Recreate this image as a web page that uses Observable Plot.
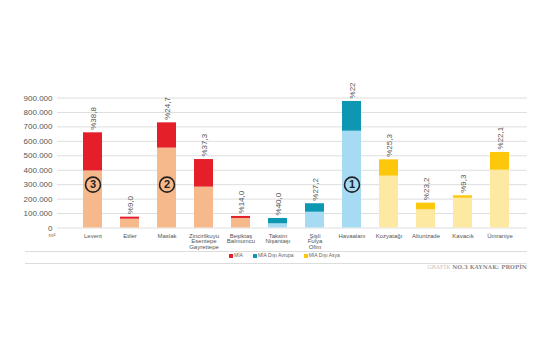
<!DOCTYPE html>
<html><head><meta charset="utf-8">
<script src="https://cdn.jsdelivr.net/npm/d3@7"></script>
<script src="https://cdn.jsdelivr.net/npm/@observablehq/plot@0.6"></script>
<style>
body{margin:0;background:#fff;font-family:"Liberation Sans",Arial,sans-serif;}
#wrap{position:relative;width:555px;height:355px;overflow:hidden;background:#fff;}
#chart{position:absolute;left:0;top:82px;}
.hr{position:absolute;left:25px;width:502px;height:1px;background:#dcdcdc;}
#legend{position:absolute;top:253px;left:229px;display:flex;align-items:center;font-size:5px;line-height:5px;color:#666;white-space:nowrap;}
#legend .sw{display:inline-block;width:4px;height:4px;margin-right:1px;}
#legend .it{display:flex;align-items:center;margin-right:10px;}
#footer{position:absolute;top:264px;right:28px;font-size:5.5px;line-height:6px;white-space:nowrap;font-family:"DejaVu Serif",serif;letter-spacing:0.1px;}
</style>
</head><body>
<div id="wrap">
  <div id="chart"></div>
  <div class="hr" style="top:251px"></div>
  <div id="legend"></div>
  <div class="hr" style="top:263px"></div>
  <div id="footer"><span style="color:#c4c4c4">GRAFİK </span><span style="color:#8a8a8a;font-weight:bold">NO.3 KAYNAK: PROPİN</span></div>
</div>
<script>
const categories = ["Levent","Etiler","Maslak","Zincirlikuyu\nEsentepe\nGayrettepe","Beşiktaş\nBalmumcu","Taksim\nNişantaşı","Şişli\nFulya\nOfim","Havaalanı","Kozyatağı","Altunizade","Kavacık","Ümraniye"];
const regions = ["MİA","MİA","MİA","MİA","MİA","MİA Dışı Avrupa","MİA Dışı Avrupa","MİA Dışı Avrupa","MİA Dışı Asya","MİA Dışı Asya","MİA Dışı Asya","MİA Dışı Asya"];
const baseValues = [395000, 61000, 553000, 283000, 66000, 29000, 109000, 670000, 359000, 126000, 206000, 400000];
const topValues = [264000, 14000, 175000, 191000, 14000, 37000, 59000, 206000, 113000, 46000, 17000, 123000];
const percentLabels = ["%38,8","%9,0","%24,7","%37,3","%14,0","%40,0","%27,2","%22,2","%25,3","%23,2","%9,3","%22,1"];
const rankCategories = ["Levent","Maslak","Havaalanı"];
const rankLabels = ["3","2","1"];
const rankLevel = 300000;
const yTicks = [0,100000,200000,300000,400000,500000,600000,700000,800000,900000];
const legendNames = ["MİA","MİA Dışı Avrupa","MİA Dışı Asya"];
const lightColors = ["#f6b98b","#a7dbf3","#fde9a2"];
const darkColors = ["#e41f2a","#0e97b2","#fdc80c"];

const rows = [];
categories.forEach((c,i)=>{
  rows.push({cat:c, key: regions[i]+"|base", value: baseValues[i]});
  rows.push({cat:c, key: regions[i]+"|top", value: topValues[i]});
});
const colorDomain = [], colorRange = [];
legendNames.forEach((n,i)=>{colorDomain.push(n+"|base", n+"|top"); colorRange.push(lightColors[i], darkColors[i]);});
const totals = categories.map((c,i)=>({cat:c, total: baseValues[i]+topValues[i], label: percentLabels[i]}));
const ranks = rankCategories.map((c,i)=>({cat:c, v: rankLevel, label: rankLabels[i]}));
const fmt = d => d3.format(",")(d).replace(/,/g,".");

const chart = Plot.plot({
  width: 555,
  height: 171,
  marginTop: 15.5,
  marginBottom: 25.5,
  marginLeft: 57,
  marginRight: 28,
  style: {overflow: "hidden", background: "transparent", fontFamily: "Liberation Sans, Arial, sans-serif"},
  x: {domain: categories, range: [78.2, 513.8], paddingInner: 0.482, paddingOuter: 0, axis: null},
  y: {domain: [0, 900000], axis: null},
  color: {type: "ordinal", domain: colorDomain, range: colorRange},
  marks: [
    Plot.ruleY(yTicks, {stroke: "#dedede", strokeWidth: 1}),
    Plot.barY(rows, {x: "cat", y: "value", fill: "key"}),
    Plot.text(totals, {x: "cat", y: "total", text: "label", rotate: -90, textAnchor: "start", dy: -3, fontSize: 8, fill: "#555"}),
    Plot.dot(ranks, {x: "cat", y: "v", r: 7.5, stroke: "#222", strokeWidth: 1.6, fill: "none"}),
    Plot.text(ranks, {x: "cat", y: "v", text: "label", fontSize: 11, fontWeight: "bold", fill: "#222"}),
    Plot.text(yTicks, {y: d => d, text: fmt, frameAnchor: "left", textAnchor: "end", dx: -5, fontSize: 8, fill: "#555"}),
    Plot.text(["m²"], {frameAnchor: "bottom-left", textAnchor: "end", dx: -2, dy: 9, fontSize: 6, fill: "#666"}),
    Plot.text(categories, {x: d => d, text: d => d, frameAnchor: "bottom", lineAnchor: "top", dy: 5.5, fontSize: 6, lineHeight: 0.95, fill: "#555"})
  ]
});
document.getElementById("chart").appendChild(chart);

const lg = document.getElementById("legend");
legendNames.forEach((n,i)=>{
  const it = document.createElement("span"); it.className = "it";
  const sw = document.createElement("span"); sw.className = "sw"; sw.style.background = darkColors[i];
  it.appendChild(sw); it.appendChild(document.createTextNode(n));
  lg.appendChild(it);
});
</script>
</body></html>
